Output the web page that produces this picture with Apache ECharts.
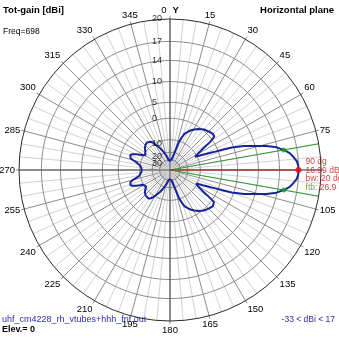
<!DOCTYPE html>
<html>
<head>
<meta charset="utf-8">
<script src="https://cdn.jsdelivr.net/npm/echarts@6/dist/echarts.min.js"></script>
<style>
  html, body { margin: 0; padding: 0; background: #ffffff; }
  #chart { width: 339px; height: 339px; }
</style>
</head>
<body>
<div id="chart"></div>
<script>
// Horizontal-plane total gain (dBi) against azimuth (deg, clockwise from Y)
const azimuthDeg = [
  0, 4, 8, 10, 12, 14, 15, 17, 18, 20, 22, 25, 28, 31, 35, 40, 45, 50, 53, 54,
  55, 56, 57, 58, 59, 60, 61, 62, 63, 64, 65, 66, 67, 68, 69, 70, 72, 74, 76, 78,
  80, 82, 84, 86, 88, 90,
  92, 94, 96, 98, 100, 102, 104, 106, 108, 110, 111, 112, 113, 114, 115, 116, 117, 118, 119, 120,
  121, 122, 123, 124, 125, 126, 127, 130, 135, 140, 145, 149, 152, 155, 158, 160, 162, 163, 165, 166,
  168, 170, 172, 176, 180,
  184, 187, 190, 193, 196, 199, 202, 205, 208, 211, 214, 217, 220, 224, 228, 232, 235, 237, 239, 241,
  243, 245, 247, 249, 251, 253, 255, 257, 259, 262, 266, 270,
  274, 278, 281, 283, 285, 287, 289, 291, 293, 295, 297, 299, 301, 303, 305, 308, 312, 316, 320, 323,
  326, 329, 332, 335, 338, 341, 344, 347, 350, 353, 356, 360
];
const gainDbi = [
  -33, -32, -30, -28, -25, -21.5, -19.3, -13, -10, -7.3, -5.2, -3.9, -2.6, -1.7, -0.6, 0.4, 1.0, 1.5, 1.3, 0.9,
  -1.0, -3.0, -5.1, -6.5, -7.8, -9.0, -10.2, -11.2, -10.5, -8.7, -6.8, -5.1, -3.0, -1.0, 1.8, 4.5, 7.6, 9.8, 12.2, 13.9,
  15.0, 15.85, 16.35, 16.78, 16.96, 16.99,
  16.96, 16.78, 16.35, 15.85, 15.0, 13.9, 12.2, 9.8, 7.6, 4.5, 1.8, -1.0, -3.0, -5.1, -6.8, -8.7, -10.5, -11.2, -10.2, -9.0,
  -7.8, -6.5, -5.1, -3.0, -1.0, 0.9, 1.3, 1.5, 1.0, 0.4, -0.6, -1.7, -2.6, -3.9, -5.2, -7.3, -10, -13, -19.3, -21.5,
  -25, -28, -30, -32, -33,
  -32.2, -30.5, -28, -25, -21.8, -19.0, -16.3, -14.0, -11.8, -9.6, -7.8, -6.9, -6.8, -7.2, -8.0, -9.3, -10.8, -11.5, -11.0, -9.8,
  -8.0, -6.2, -4.6, -3.7, -3.7, -4.2, -5.5, -7.5, -9.3, -10.2, -11.0, -11.3,
  -11.0, -10.2, -9.3, -7.5, -5.5, -4.2, -3.7, -3.7, -4.6, -6.2, -8.0, -9.8, -11.0, -11.5, -10.8, -9.3, -8.0, -7.2, -6.8, -6.9,
  -7.8, -9.6, -11.8, -14.0, -16.3, -19.0, -21.8, -25, -28, -30.5, -32.2, -33
];

// Gain rings of the radial scale and the text printed beside each
const ringDbi = [20, 17, 14, 10, 5, 0, -10, -20, -30];
const ringLabels = ['20', '17', '14', '10', '5', '0', '10', '20', '30'];

// Main-beam summary
const peakAzimuth = 90;
const peakGain = 16.99;
const beamEdgeAzimuth = [80, 100];
const beamEdgeGain = [15.0, 15.0];
const beamwidthDeg = 20;
const frontToBackDb = 26.9;
const gainMin = -33;
const gainMax = 17;

// Log-style radial scale, rim = 20 dBi
const SCALE_TOP = 20;
function rad(db) { return Math.pow(10, (db - SCALE_TOP) / 43); }

const FONT = '"Liberation Sans", Arial, sans-serif';

const ringPoints = (db) => {
  const pts = [];
  for (let a = 0; a <= 360; a += 3) pts.push([rad(db), a]);
  return pts;
};

const series = [];

// inner rings (rim is the angle axis line)
ringDbi.filter(db => db < SCALE_TOP).forEach(db => {
  series.push({
    type: 'line', coordinateSystem: 'polar', silent: true, symbol: 'none', z: 1,
    lineStyle: { color: '#8c8c8c', width: 1 },
    data: ringPoints(db)
  });
});

// Y and X axes through the centre
series.push({
  type: 'line', coordinateSystem: 'polar', silent: true, symbol: 'none', z: 2,
  lineStyle: { color: '#555555', width: 1 },
  data: [[1, 0], [1, 180]]
});
series.push({
  type: 'line', coordinateSystem: 'polar', silent: true, symbol: 'none', z: 2,
  lineStyle: { color: '#555555', width: 1 },
  data: [[1, 90], [1, 270]]
});

// beamwidth edges
beamEdgeAzimuth.forEach(a => {
  series.push({
    type: 'line', coordinateSystem: 'polar', silent: true, symbol: 'none', z: 3,
    lineStyle: { color: '#2e9a2e', width: 1 },
    data: [[0, a], [1, a]]
  });
});

// direction of maximum gain
series.push({
  type: 'line', coordinateSystem: 'polar', silent: true, symbol: 'none', z: 3,
  lineStyle: { color: '#d01818', width: 1 },
  data: [[0, peakAzimuth], [rad(peakGain), peakAzimuth]]
});

// radiation pattern
series.push({
  type: 'line', coordinateSystem: 'polar', silent: true, symbol: 'none', smooth: false, z: 4,
  lineStyle: { color: '#18249c', width: 2 },
  data: azimuthDeg.map((a, i) => [rad(gainDbi[i]), a])
});

// -3 dB points
series.push({
  type: 'scatter', coordinateSystem: 'polar', silent: true, z: 5,
  symbolSize: 5, itemStyle: { color: '#22a022' },
  data: beamEdgeAzimuth.map((a, i) => [rad(beamEdgeGain[i]), a])
});

// peak marker with its readout
series.push({
  type: 'scatter', coordinateSystem: 'polar', silent: true, z: 6,
  symbolSize: 6, itemStyle: { color: '#e01010' },
  data: [[rad(peakGain), peakAzimuth]],
  label: {
    show: true, position: 'right', distance: 4, offset: [0, 4.5],
    fontFamily: FONT, fontSize: 8.5, lineHeight: 8.5, color: '#cc1010',
    formatter: () => [
      `{r|${peakAzimuth} dg}`,
      `{r|${peakGain.toFixed(2)} dB}`,
      `{r|bw: ${beamwidthDeg} dg}`,
      `{g|ftb:} {r|${frontToBackDb} dB}`
    ].join('\n'),
    rich: {
      r: { color: '#cc1010', fontFamily: FONT, fontSize: 8.5, lineHeight: 8.5 },
      g: { color: '#4a8a10', fontFamily: FONT, fontSize: 8.5, lineHeight: 8.5 }
    }
  }
});

// ring values along the Y axis
series.push({
  type: 'scatter', coordinateSystem: 'polar', silent: true, z: 6,
  symbolSize: 1, itemStyle: { color: 'rgba(0,0,0,0)' },
  data: ringDbi.map((db, i) => ({
    value: [rad(db), 0],
    name: ringLabels[i],
    label: { offset: [-18, db < 0 ? 4 : 0] }
  })),
  label: {
    show: true, position: 'inside', align: 'left', verticalAlign: 'middle',
    fontFamily: FONT, fontSize: 9, color: '#000000',
    formatter: p => p.name
  }
});

const chart = echarts.init(document.getElementById('chart'), null, { renderer: 'canvas' });
chart.setOption({
  animation: false,
  backgroundColor: '#ffffff',
  polar: { center: [170, 170], radius: 151 },
  angleAxis: {
    type: 'value', min: 0, max: 360, interval: 15, startAngle: 90, clockwise: true,
    axisLine: { show: true, lineStyle: { color: '#2a2a2a', width: 1 } },
    axisTick: { show: true, length: 3, lineStyle: { color: '#8c8c8c' } },
    axisLabel: {
      show: true, margin: 4, fontFamily: FONT, fontSize: 9.5, color: '#000000',
      formatter: v => {
        if (v === 360 || v === 90) return '';
        if (v === 0) return '{n|0}{y|Y}';
        return String(v);
      },
      rich: {
        n: { fontFamily: FONT, fontSize: 9.5, color: '#000', padding: [0, 6, 0, 0] },
        y: { fontFamily: FONT, fontSize: 9.5, fontWeight: 'bold', color: '#000' }
      }
    },
    splitLine: { show: true, lineStyle: { color: '#8c8c8c', width: 1 } },
    minorTick: { show: false, splitNumber: 3 },
    minorSplitLine: { show: true, lineStyle: { color: '#d2d2d2', width: 1 } }
  },
  radiusAxis: {
    type: 'value', min: 0, max: 1,
    axisLine: { show: false }, axisTick: { show: false },
    axisLabel: { show: false }, splitLine: { show: false }
  },
  graphic: [
    { type: 'text', left: 3, top: 5, style: { text: 'Tot-gain [dBi]', font: 'bold 9.5px ' + FONT, fill: '#000' } },
    { type: 'text', left: 3, top: 27, style: { text: 'Freq=698', font: '8.5px ' + FONT, fill: '#000' } },
    { type: 'text', right: 5, top: 5, style: { text: 'Horizontal plane', font: 'bold 9.5px ' + FONT, fill: '#000' } },
    { type: 'text', left: 2, top: 315, style: { text: 'uhf_cm4228_rh_vtubes+hhh_fnt.out', font: '9px ' + FONT, fill: '#2a30b4' } },
    { type: 'text', left: 2, top: 325, style: { text: 'Elev.= 0', font: 'bold 9px ' + FONT, fill: '#000' } },
    { type: 'text', right: 4, top: 315, style: { text: `${gainMin} < dBi < ${gainMax}`, font: '8.5px ' + FONT, fill: '#303090' } }
  ],
  series: series
});
</script>
</body>
</html>
